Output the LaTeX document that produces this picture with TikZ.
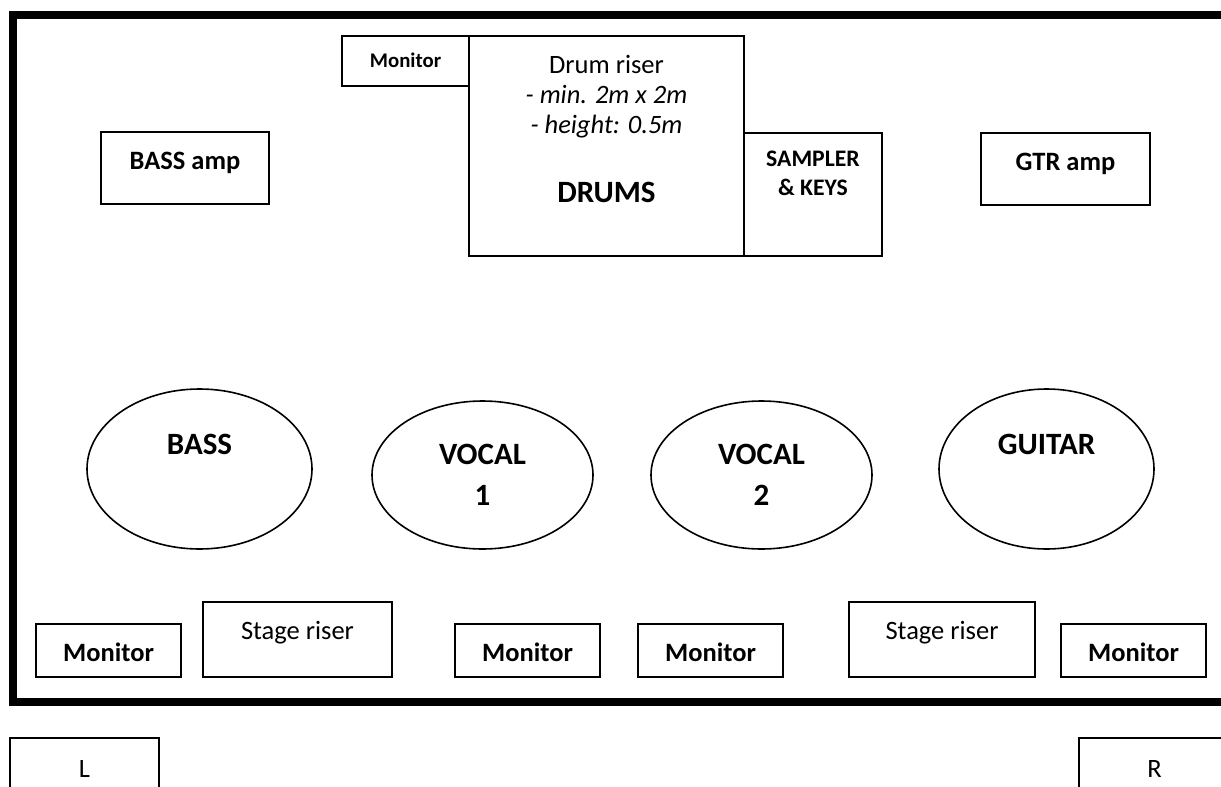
\documentclass[tikz,border=0pt]{standalone}
\usepackage{fontspec}
\setmainfont{Carlito}
\usetikzlibrary{shapes.geometric}
\tikzset{
  boxst/.style={draw, line width=1.6pt, rectangle, inner sep=0pt},
  ellst/.style={draw, line width=1.6pt, ellipse, inner sep=0pt},
  txt/.style={inner sep=0pt, anchor=base},
  fnorm/.style={font=\fontsize{26.5}{30}\selectfont},
  fbold/.style={font=\fontsize{26.5}{30}\selectfont\bfseries},
  fbig/.style={font=\fontsize{31}{36}\selectfont\bfseries},
  fsmall/.style={font=\fontsize{20.8}{24}\selectfont\bfseries},
  fsamp/.style={font=\fontsize{23.7}{28}\selectfont\bfseries},
  fital/.style={font=\fontsize{26.5}{30}\selectfont\itshape},
}
\begin{document}
\begin{tikzpicture}[x=1pt,y=-1pt]
\useasboundingbox (0,0) rectangle (1221,787);
\clip (0,0) rectangle (1221,787);
% stage frame
\draw[line width=8pt] (1240,14.5) -- (13,14.5) -- (13,702) -- (1240,702);
% top row
\node[boxst, minimum width=127pt, minimum height=50pt] (montop) at (405.5,61) {};
\node[boxst, minimum width=275pt, minimum height=220pt] (drum) at (606.5,146) {};
\node[boxst, minimum width=138pt, minimum height=123pt] (sampler) at (813,194.5) {};
\node[boxst, minimum width=168pt, minimum height=72pt] (bassamp) at (185,168) {};
\node[boxst, minimum width=169pt, minimum height=72pt] (gtramp) at (1065.5,169) {};
\node[txt, fsmall] (tmontop) at (405.5,67.7) {Monitor};
\node[txt, fnorm] (tdr1) at (606.5,73.5) {Drum riser};
\node[txt, fital] (tdr2) at (606.5,103.5) {- min. 2m x 2m};
\node[txt, fital] (tdr3) at (606.5,133.5) {- height: 0.5m};
\node[txt, fbig] (tdrums) at (606.5,202) {DRUMS};
\node[txt, fsamp] (tsamp1) at (813,166.6) {SAMPLER};
\node[txt, fsamp] (tsamp2) at (813,195.6) {\& KEYS};
\node[txt, fbold] (tbassamp) at (185,169.5) {BASS amp};
\node[txt, fbold] (tgtramp) at (1065.5,170.5) {GTR amp};
% performers
\node[ellst, minimum width=225pt, minimum height=160pt] (bass) at (199.5,469) {};
\node[ellst, minimum width=221pt, minimum height=148pt] (voc1) at (482.5,475) {};
\node[ellst, minimum width=221pt, minimum height=148pt] (voc2) at (761.5,475) {};
\node[ellst, minimum width=215pt, minimum height=160pt] (guitar) at (1046.5,469) {};
\node[txt, fbig] (tbass) at (199.5,454) {BASS};
\node[txt, fbig] (tvoc1a) at (482.5,464) {VOCAL};
\node[txt, fbig] (tvoc1b) at (482.5,505) {1};
\node[txt, fbig] (tvoc2a) at (761.5,464) {VOCAL};
\node[txt, fbig] (tvoc2b) at (761.5,505) {2};
\node[txt, fbig] (tguitar) at (1046.5,454) {GUITAR};
% front row
\node[boxst, minimum width=145pt, minimum height=53pt] (mon1) at (108.5,650.5) {};
\node[boxst, minimum width=189pt, minimum height=75pt] (riser1) at (297.5,639.5) {};
\node[boxst, minimum width=145pt, minimum height=53pt] (mon2) at (527.5,650.5) {};
\node[boxst, minimum width=145pt, minimum height=53pt] (mon3) at (710.5,650.5) {};
\node[boxst, minimum width=186pt, minimum height=75pt] (riser2) at (942,639.5) {};
\node[boxst, minimum width=145pt, minimum height=53pt] (mon4) at (1133.5,650.5) {};
\node[txt, fbold] (tmon1) at (108.5,661) {Monitor};
\node[txt, fnorm] (triser1) at (297.5,639) {Stage riser};
\node[txt, fbold] (tmon2) at (527.5,661) {Monitor};
\node[txt, fbold] (tmon3) at (710.5,661) {Monitor};
\node[txt, fnorm] (triser2) at (942,639) {Stage riser};
\node[txt, fbold] (tmon4) at (1133.5,661) {Monitor};
% PA
\node[boxst, minimum width=149pt, minimum height=62pt] (lbox) at (84.5,769) {};
\node[boxst, minimum width=151pt, minimum height=62pt] (rbox) at (1154.5,769) {};
\node[txt, fnorm] (tl) at (84.5,777.5) {L};
\node[txt, fnorm] (tr) at (1154.5,777.5) {R};
\end{tikzpicture}
\end{document}
